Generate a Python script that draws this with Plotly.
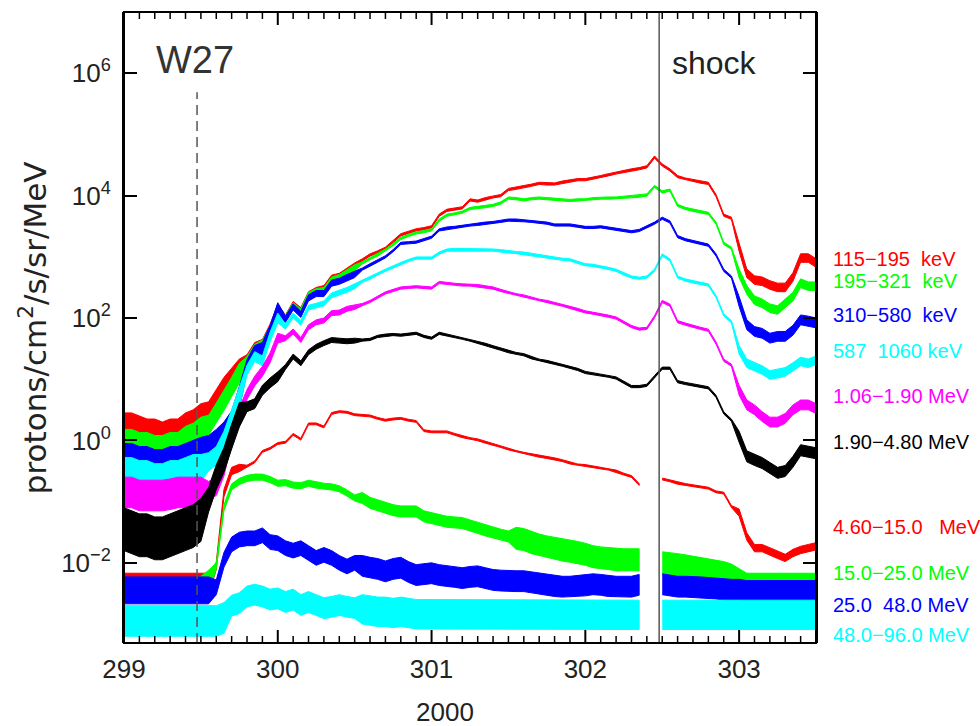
import numpy as np
import plotly.graph_objects as go

# Day of year 2000, sampled every 0.05 day
DOY = np.round(299.0 + 0.05 * np.arange(91), 2)

# log10 of proton intensity (protons/cm2/s/sr/MeV), band centre per channel
log_115_195keV = [
    0.15, 0.15, 0.10, 0.05, 0.05, 0.00, 0.05, 0.05, 0.15, 0.20,
    0.30, 0.45, 0.65, 0.85, 1.00, 1.15, 1.30, 1.50, 1.55, 1.80,
    2.12, 2.00, 2.22, 2.12, 2.38, 2.45, 2.48, 2.65, 2.68, 2.77,
    2.85, 2.95, 3.03, 3.08, 3.14, 3.25, 3.36, 3.40, 3.44, 3.46,
    3.49, 3.68, 3.76, 3.78, 3.80, 3.93, 3.91, 3.95, 3.98, 4.00,
    4.10, 4.12, 4.14, 4.17, 4.20, 4.19, 4.19, 4.22, 4.24, 4.26,
    4.26, 4.28, 4.31, 4.34, 4.37, 4.40, 4.42, 4.44, 4.47, 4.63,
    4.50, 4.42, 4.31, 4.27, 4.25, 4.22, 4.20, 4.00, 3.68, 3.63,
    3.16, 2.73, 2.62, 2.60, 2.54, 2.50, 2.50, 2.67, 2.98, 2.98,
    2.90]
log_195_321keV = [
    -0.10, -0.10, -0.15, -0.15, -0.20, -0.20, -0.15, -0.15, -0.05, 0.00,
    0.10, 0.25, 0.45, 0.65, 0.87, 1.10, 1.28, 1.48, 1.55, 1.78,
    2.12, 2.00, 2.20, 2.10, 2.37, 2.43, 2.45, 2.62, 2.66, 2.74,
    2.82, 2.90, 2.97, 3.03, 3.11, 3.20, 3.30, 3.35, 3.39, 3.41,
    3.44, 3.60, 3.68, 3.70, 3.73, 3.79, 3.81, 3.82, 3.84, 3.88,
    3.96, 3.95, 3.93, 3.95, 3.96, 3.95, 3.94, 3.93, 3.92, 3.93,
    3.93, 3.95, 3.96, 3.96, 3.96, 3.97, 3.98, 3.99, 4.01, 4.15,
    4.06, 4.09, 3.84, 3.79, 3.76, 3.73, 3.71, 3.55, 3.22, 3.14,
    2.73, 2.46, 2.29, 2.24, 2.16, 2.13, 2.24, 2.35, 2.57, 2.52,
    2.52]
log_310_580keV = [
    -0.35, -0.35, -0.40, -0.40, -0.45, -0.45, -0.40, -0.40, -0.35, -0.30,
    -0.25, -0.10, 0.00, 0.12, 0.30, 0.70, 1.22, 1.45, 1.50, 1.78,
    2.15, 1.98, 2.18, 2.06, 2.33, 2.40, 2.40, 2.57, 2.60, 2.66,
    2.71, 2.80, 2.87, 2.93, 3.00, 3.10, 3.22, 3.23, 3.24, 3.28,
    3.32, 3.44, 3.47, 3.48, 3.50, 3.52, 3.53, 3.55, 3.56, 3.58,
    3.60, 3.60, 3.59, 3.58, 3.57, 3.55, 3.52, 3.52, 3.52, 3.50,
    3.48, 3.48, 3.49, 3.47, 3.45, 3.43, 3.41, 3.43, 3.49, 3.55,
    3.63, 3.57, 3.33, 3.28, 3.25, 3.22, 3.19, 3.03, 2.78, 2.67,
    2.27, 1.89, 1.78, 1.75, 1.67, 1.70, 1.70, 1.80, 1.97, 1.95,
    1.92]
log_587_1060keV = [
    -0.50, -0.50, -0.55, -0.55, -0.60, -0.60, -0.55, -0.55, -0.50, -0.45,
    -0.45, -0.35, -0.25, 0.00, 0.35, 0.70, 1.15, 1.37, 1.30, 1.69,
    2.00, 1.86, 2.04, 1.92, 2.17, 2.20, 2.24, 2.37, 2.41, 2.46,
    2.52, 2.60, 2.65, 2.72, 2.78, 2.84, 2.89, 2.94, 2.98, 2.98,
    2.98, 3.06, 3.11, 3.12, 3.12, 3.12, 3.11, 3.11, 3.11, 3.10,
    3.08, 3.07, 3.06, 3.04, 3.01, 3.00, 2.98, 2.96, 2.95, 2.91,
    2.87, 2.86, 2.84, 2.81, 2.78, 2.72, 2.67, 2.65, 2.67, 2.78,
    3.03, 2.95, 2.67, 2.62, 2.59, 2.56, 2.54, 2.35, 2.05, 1.94,
    1.48, 1.26, 1.20, 1.15, 1.07, 1.09, 1.12, 1.20, 1.29, 1.26,
    1.31]
log_1p06_1p90MeV = [
    -0.85, -0.85, -0.90, -0.90, -0.90, -0.90, -0.88, -0.85, -0.85, -0.85,
    -0.85, -0.82, -0.75, -0.43, 0.10, 0.38, 0.75, 0.97, 1.13, 1.35,
    1.67, 1.67, 1.78, 1.64, 1.85, 1.93, 1.96, 2.08, 2.09, 2.15,
    2.18, 2.22, 2.27, 2.34, 2.41, 2.45, 2.49, 2.50, 2.51, 2.50,
    2.49, 2.58, 2.56, 2.55, 2.54, 2.54, 2.53, 2.51, 2.49, 2.45,
    2.41, 2.38, 2.36, 2.32, 2.29, 2.27, 2.24, 2.21, 2.18, 2.14,
    2.10, 2.08, 2.06, 2.03, 2.00, 1.93, 1.86, 1.82, 1.83, 2.02,
    2.27, 2.21, 1.94, 1.90, 1.86, 1.83, 1.80, 1.59, 1.31, 1.23,
    0.82, 0.58, 0.50, 0.39, 0.30, 0.30, 0.36, 0.50, 0.58, 0.58,
    0.52]
log_1p90_4p80MeV = [
    -1.45, -1.50, -1.55, -1.55, -1.60, -1.60, -1.55, -1.50, -1.45, -1.40,
    -1.30, -0.97, -0.60, -0.32, 0.06, 0.42, 0.55, 0.60, 0.82, 0.94,
    1.04, 1.20, 1.37, 1.26, 1.44, 1.53, 1.59, 1.64, 1.63, 1.62,
    1.63, 1.64, 1.65, 1.70, 1.72, 1.73, 1.72, 1.74, 1.75, 1.70,
    1.67, 1.75, 1.72, 1.70, 1.67, 1.64, 1.61, 1.57, 1.53, 1.49,
    1.45, 1.42, 1.40, 1.35, 1.31, 1.29, 1.26, 1.23, 1.20, 1.16,
    1.11, 1.09, 1.07, 1.05, 1.02, 0.95, 0.88, 0.88, 0.90, 1.04,
    1.18, 1.18, 0.96, 0.93, 0.91, 0.88, 0.86, 0.72, 0.45, 0.33,
    0.06, -0.26, -0.32, -0.37, -0.45, -0.53, -0.50, -0.35, -0.16, -0.18,
    -0.21]
log_4p60_15p0MeV = [
    -2.35, -2.35, -2.35, -2.35, -2.35, -2.35, -2.35, -2.35, -2.35, -2.35,
    -2.35, -2.35, -2.05, -0.86, -0.50, -0.45, -0.42, -0.35, -0.18, -0.13,
    -0.05, -0.03, 0.10, 0.02, 0.27, 0.27, 0.22, 0.44, 0.47, 0.46,
    0.42, 0.41, 0.40, 0.36, 0.33, 0.35, 0.36, 0.33, 0.31, 0.16,
    0.14, 0.14, 0.14, 0.10, 0.06, 0.03, 0.01, -0.03, -0.07, -0.10,
    -0.14, -0.18, -0.21, -0.23, -0.26, -0.28, -0.30, -0.33, -0.37, -0.40,
    -0.41, -0.43, -0.45, -0.47, -0.50, -0.55, -0.59, -0.72, None, None,
    -0.63, -0.66, -0.70, -0.72, -0.74, -0.76, -0.78, -0.84, -0.86, -1.08,
    -1.18, -1.57, -1.76, -1.76, -1.81, -1.87, -1.92, -1.84, -1.79, -1.76,
    -1.73]
log_15p0_25p0MeV = [
    -2.45, -2.45, -2.45, -2.45, -2.45, -2.45, -2.45, -2.45, -2.45, -2.45,
    -2.40, -2.30, -2.05, -1.10, -0.76, -0.67, -0.62, -0.60, -0.60, -0.64,
    -0.70, -0.69, -0.73, -0.74, -0.70, -0.73, -0.75, -0.76, -0.79, -0.86,
    -0.94, -0.94, -1.02, -1.06, -1.10, -1.14, -1.16, -1.16, -1.16, -1.24,
    -1.27, -1.30, -1.33, -1.34, -1.35, -1.39, -1.43, -1.47, -1.51, -1.54,
    -1.57, -1.60, -1.62, -1.67, -1.71, -1.74, -1.76, -1.79, -1.81, -1.83,
    -1.86, -1.90, -1.92, -1.93, -1.95, -1.95, -1.95, -1.95, None, None,
    -2.00, -2.01, -2.03, -2.05, -2.07, -2.09, -2.11, -2.13, -2.16, -2.20,
    -2.28, -2.35, -2.35, -2.35, -2.35, -2.35, -2.35, -2.35, -2.35, -2.35,
    -2.35]
log_25p0_48p0MeV = [
    -2.45, -2.45, -2.45, -2.45, -2.45, -2.45, -2.45, -2.45, -2.45, -2.45,
    -2.45, -2.45, -2.40, -1.95, -1.70, -1.62, -1.60, -1.60, -1.55, -1.66,
    -1.68, -1.76, -1.80, -1.76, -1.84, -1.92, -1.87, -1.92, -2.00, -2.06,
    -2.00, -2.05, -2.08, -2.10, -2.14, -2.10, -2.08, -2.15, -2.20, -2.18,
    -2.17, -2.20, -2.22, -2.23, -2.25, -2.23, -2.22, -2.25, -2.28, -2.29,
    -2.30, -2.30, -2.30, -2.32, -2.33, -2.36, -2.38, -2.39, -2.39, -2.38,
    -2.37, -2.35, -2.36, -2.38, -2.39, -2.39, -2.39, -2.36, None, None,
    -2.35, -2.37, -2.39, -2.39, -2.39, -2.40, -2.41, -2.42, -2.44, -2.44,
    -2.44, -2.46, -2.46, -2.46, -2.46, -2.46, -2.46, -2.46, -2.46, -2.46,
    -2.46]
log_48p0_96p0MeV = [
    -2.95, -2.95, -2.95, -2.95, -2.95, -2.95, -2.95, -2.95, -2.95, -2.95,
    -2.95, -2.95, -2.95, -2.90, -2.70, -2.66, -2.55, -2.52, -2.55, -2.60,
    -2.58, -2.64, -2.60, -2.69, -2.64, -2.69, -2.74, -2.72, -2.69, -2.72,
    -2.74, -2.76, -2.78, -2.80, -2.80, -2.82, -2.80, -2.82, -2.84, -2.84,
    -2.84, -2.85, -2.85, -2.85, -2.85, -2.85, -2.85, -2.85, -2.85, -2.85,
    -2.85, -2.85, -2.85, -2.85, -2.85, -2.85, -2.85, -2.85, -2.85, -2.85,
    -2.85, -2.85, -2.85, -2.85, -2.85, -2.85, -2.85, -2.85, None, None,
    -2.85, -2.85, -2.85, -2.85, -2.85, -2.85, -2.85, -2.85, -2.85, -2.85,
    -2.85, -2.85, -2.85, -2.85, -2.85, -2.85, -2.85, -2.85, -2.85, -2.85,
    -2.85]

# Scatter half-width of each band (decades), as (until day, half-width)
spread_115_195keV = [(299.5, 0.30), (299.75, 0.18), (300.0, 0.10), (300.5, 0.05), (302.95, 0.018), (303.5, 0.07)]
spread_195_321keV = [(299.5, 0.28), (299.75, 0.16), (300.0, 0.09), (300.5, 0.05), (302.95, 0.018), (303.5, 0.07)]
spread_310_580keV = [(299.5, 0.30), (299.75, 0.18), (300.0, 0.10), (300.5, 0.05), (302.95, 0.018), (303.5, 0.08)]
spread_587_1060keV = [(299.5, 0.22), (299.75, 0.15), (300.0, 0.08), (300.5, 0.04), (302.95, 0.018), (303.5, 0.07)]
spread_1p06_1p90MeV = [(299.5, 0.25), (299.75, 0.15), (300.0, 0.08), (300.5, 0.04), (302.95, 0.018), (303.5, 0.08)]
spread_1p90_4p80MeV = [(299.5, 0.35), (299.75, 0.20), (300.0, 0.08), (300.5, 0.04), (302.95, 0.018), (303.5, 0.09)]
spread_4p60_15p0MeV = [(299.55, 0.18), (299.75, 0.06), (302.95, 0.015), (303.5, 0.06)]
spread_15p0_25p0MeV = [(299.55, 0.18), (300.5, 0.05), (301.5, 0.09), (303.5, 0.18)]
spread_25p0_48p0MeV = [(299.55, 0.22), (300.5, 0.12), (303.5, 0.17)]
spread_48p0_96p0MeV = [(299.65, 0.25), (300.5, 0.17), (303.5, 0.24)]

CHANNEL_LABELS = ["115\u2212195\u00a0\u00a0keV", "195\u2212321\u00a0\u00a0keV", "310\u2212580\u00a0\u00a0keV",
                  "587\u00a0\u00a01060\u00a0keV", "1.06\u22121.90\u00a0MeV", "1.90\u22124.80\u00a0MeV",
                  "4.60\u221215.0\u00a0\u00a0\u00a0MeV", "15.0\u221225.0\u00a0MeV", "25.0\u00a0\u00a048.0\u00a0MeV",
                  "48.0\u221296.0\u00a0MeV"]
CHANNEL_COLORS = ["#ff0000", "#00ff00", "#0000ff", "#00ffff", "#ff00ff", "#000000",
                  "#ff0000", "#00ff00", "#0000ff", "#00ffff"]
CHANNEL_LOGS = [log_115_195keV, log_195_321keV, log_310_580keV, log_587_1060keV, log_1p06_1p90MeV,
                log_1p90_4p80MeV, log_4p60_15p0MeV, log_15p0_25p0MeV, log_25p0_48p0MeV, log_48p0_96p0MeV]
CHANNEL_SPREADS = [spread_115_195keV, spread_195_321keV, spread_310_580keV, spread_587_1060keV,
                   spread_1p06_1p90MeV, spread_1p90_4p80MeV, spread_4p60_15p0MeV, spread_15p0_25p0MeV,
                   spread_25p0_48p0MeV, spread_48p0_96p0MeV]
# label heights on the right, paper fraction
LABEL_Y = [0.609, 0.574, 0.520, 0.463, 0.391, 0.318, 0.184, 0.111, 0.060, 0.013]

DAY_TICKS = [299, 300, 301, 302, 303]
MINOR_STEP = 0.1
W27_TIME = 299.475
SHOCK_TIME = 302.48
X_RANGE = [299, 303.5]
Y_LOG_RANGE = [-3.31, 7.0]
W27_LINE_TOP = 5.69          # log10 where the dashed W27 marker stops

PLOT_HEIGHT_PX = 726 - 12 - 83
MAJOR_TICK = 13 / PLOT_HEIGHT_PX
MINOR_TICK = 7 / PLOT_HEIGHT_PX

TEXT_FONT = "Liberation Sans, Arial, sans-serif"
TEXT_COLOR = "#222222"


def half_width(t, spread):
    for until, w in spread:
        if t <= until + 1e-9:
            return w
    return spread[-1][1]


def runs(values):
    """Split sample indices into contiguous runs without gaps."""
    out, cur = [], []
    for i, v in enumerate(values):
        if v is None:
            if cur:
                out.append(cur)
            cur = []
        else:
            cur.append(i)
    if cur:
        out.append(cur)
    return out


fig = go.Figure()
for logs, spread, color in zip(CHANNEL_LOGS, CHANNEL_SPREADS, CHANNEL_COLORS):
    for idx in runs(logs):
        t = [DOY[i] for i in idx]
        hi = [10 ** (logs[i] + half_width(DOY[i], spread)) for i in idx]
        lo = [10 ** (logs[i] - half_width(DOY[i], spread)) for i in idx]
        fig.add_trace(go.Scatter(
            x=t + t[::-1], y=hi + lo[::-1], mode="lines", fill="toself",
            fillcolor=color, line=dict(color=color, width=1),
            hoverinfo="skip", showlegend=False))

# event markers
fig.add_trace(go.Scatter(
    x=[W27_TIME, W27_TIME], y=[10 ** Y_LOG_RANGE[0], 10 ** W27_LINE_TOP], mode="lines",
    line=dict(color="#555555", width=1.5, dash="10px,6px"),
    hoverinfo="skip", showlegend=False))
fig.add_trace(go.Scatter(
    x=[SHOCK_TIME, SHOCK_TIME], y=[10 ** Y_LOG_RANGE[0], 10 ** Y_LOG_RANGE[1]], mode="lines",
    line=dict(color="#555555", width=1.5),
    hoverinfo="skip", showlegend=False))

# plot frame plus inward time ticks on the bottom and top edges
shapes = [dict(type="rect", xref="paper", yref="paper", x0=0, x1=1, y0=0, y1=1,
               line=dict(color="black", width=2), fillcolor="rgba(0,0,0,0)", layer="above")]
n_minor = int(round((X_RANGE[1] - X_RANGE[0]) / MINOR_STEP))
for k in range(1, n_minor):
    d = round(X_RANGE[0] + k * MINOR_STEP, 2)
    major = any(abs(d - m) < 1e-6 for m in DAY_TICKS)
    length = MAJOR_TICK if major else MINOR_TICK
    width = 2 if major else 1.5
    for base, sign in ((0, 1), (1, -1)):
        shapes.append(dict(type="line", xref="x", yref="paper", x0=d, x1=d,
                           y0=base, y1=base + sign * length,
                           line=dict(color="black", width=width), layer="above"))

annotations = [
    dict(x=299.46, y=6.22, xref="x", yref="y", text="W27", showarrow=False,
         xanchor="center", yanchor="middle",
         font=dict(family=TEXT_FONT, size=38, color="#333333")),
    dict(x=302.84, y=6.17, xref="x", yref="y", text="shock", showarrow=False,
         xanchor="center", yanchor="middle",
         font=dict(family=TEXT_FONT, size=32, color=TEXT_COLOR)),
    dict(x=-0.1315, y=0.499, xref="paper", yref="paper", text="protons/cm<sup>2</sup>/s/sr/MeV",
         textangle=-90, showarrow=False, xanchor="center", yanchor="middle",
         font=dict(family="DejaVu Sans, sans-serif", size=31, color=TEXT_COLOR)),
    dict(x=0.464, y=-0.109, xref="paper", yref="paper", text="2000", showarrow=False,
         xanchor="center", yanchor="middle",
         font=dict(family=TEXT_FONT, size=26, color=TEXT_COLOR)),
]
for label, color, ypos in zip(CHANNEL_LABELS, CHANNEL_COLORS, LABEL_Y):
    annotations.append(dict(x=1.021, y=ypos, xref="paper", yref="paper", text=label,
                            xanchor="left", yanchor="middle", showarrow=False,
                            font=dict(family=TEXT_FONT, size=20, color=color)))

fig.update_layout(
    width=980, height=726, autosize=False,
    margin=dict(l=124, r=164, t=12, b=83),
    paper_bgcolor="white", plot_bgcolor="white",
    annotations=annotations, shapes=shapes,
    xaxis=dict(
        range=X_RANGE, tickvals=DAY_TICKS, ticktext=[str(d) for d in DAY_TICKS],
        ticks="", showline=False, showgrid=False, zeroline=False, ticklabelstandoff=8,
        tickfont=dict(family=TEXT_FONT, size=26, color=TEXT_COLOR),
    ),
    yaxis=dict(
        type="log", range=Y_LOG_RANGE,
        tickvals=[1e-2, 1, 1e2, 1e4, 1e6],
        ticktext=["10<sup>\u22122</sup>", "10<sup>0</sup>", "10<sup>2</sup>", "10<sup>4</sup>", "10<sup>6</sup>"],
        ticks="inside", ticklen=13, tickwidth=2, tickcolor="black",
        showline=True, linewidth=2, linecolor="black", mirror="ticks",
        showgrid=False, zeroline=False, ticklabelstandoff=6,
        tickfont=dict(family=TEXT_FONT, size=26, color=TEXT_COLOR),
    ),
)

fig.write_html("out.html")
